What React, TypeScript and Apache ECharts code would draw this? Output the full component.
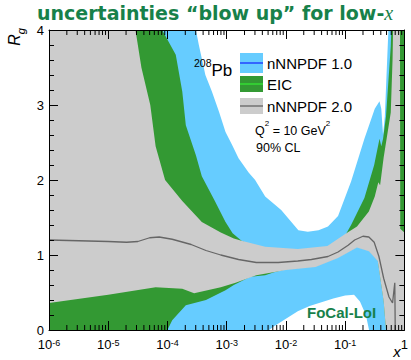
import React, { useEffect, useRef } from 'react';
import * as echarts from 'echarts';

// ---- axis ticks ----
const xTickExponents = [-6, -5, -4, -3, -2, -1, 0];
const yTickLabels = [0, 1, 2, 3, 4];
const minorMultipliers = [2, 3, 4, 5, 6, 7, 8, 9];

// ---- nNNPDF 1.0 band (log10 x , R_g) ----
const nn1UpperLogX = [-6, -3.55, -3.52, -3.47, -3.36, -3.25, -3.13, -3.02, -2.91, -2.8, -2.63, -2.52, -2.35, -2.08, -1.79, -1.63, -1.45, -1.29, -1.12, -0.9, -0.675, -0.5, -0.42, -0.39, -0.36, -0.33, -0.27, -0.25, 0];
const nn1UpperY = [4.5, 4.5, 4.0, 3.8, 3.4, 3.18, 2.91, 2.64, 2.47, 2.29, 2.1, 2.0, 1.78, 1.6, 1.33, 1.31, 1.33, 1.38, 1.52, 1.98, 2.55, 2.95, 3.05, 2.95, 2.6, 2.85, 4.0, 4.5, 4.5];
const nn1LowerLogX = [-6, -2.5, -2.45, -2.2, -2.0, -1.8, -1.6, -1.4, -1.2, -1.0, -0.85, -0.75, -0.65, -0.57, -0.55, 0];
const nn1LowerY = [-0.5, -0.5, -0.1, 0.05, 0.15, 0.25, 0.32, 0.37, 0.42, 0.46, 0.47, 0.38, 0.2, -0.1, -0.5, -0.5];

// ---- EIC band ----
const eicUpperLogX = [-6, -4.12, -4.09, -3.86, -3.75, -3.69, -3.52, -3.42, -3.2, -3.02, -2.9, -2.75, -2.5, -2.0, -1.5, -1.3, -1.0, -0.9, -0.675, -0.51, -0.42, -0.39, -0.36, -0.31, -0.23, -0.2, 0];
const eicUpperY = [4.5, 4.5, 4.0, 3.67, 3.18, 2.73, 2.33, 2.05, 1.72, 1.44, 1.29, 1.19, 1.1, 1.04, 1.06, 1.1, 1.26, 1.4, 1.76, 2.2, 2.55, 2.45, 2.55, 2.85, 3.78, 4.5, 4.5];
const eicLowerLogX = [-6, -4.02, -4.0, -3.92, -3.69, -3.35, -3.02, -2.88, -2.6, -2.35, -2.2, -2.0, -1.5, -1.12, -0.8, -0.6, -0.45, -0.35, -0.3, 0];
const eicLowerY = [-0.5, -0.5, 0.0, 0.13, 0.33, 0.4, 0.53, 0.6, 0.71, 0.73, 0.77, 0.81, 0.85, 0.97, 1.11, 1.06, 0.93, 0.39, -0.1, -0.1];

// ---- nNNPDF 2.0 band ----
const nn2UpperLogX = [-6, -4.6, -4.54, -4.44, -4.29, -4.2, -4.04, -3.75, -3.42, -3.1, -2.88, -2.75, -2.35, -1.8, -1.3, -1.0, -0.8, -0.6, -0.5, -0.44, -0.41, -0.35, -0.23, -0.2, -0.18, -0.075, -0.07, 0];
const nn2UpperY = [4.5, 4.5, 4.0, 3.5, 3.0, 2.45, 2.0, 1.72, 1.44, 1.3, 1.22, 1.19, 1.11, 1.08, 1.12, 1.28, 1.38, 1.58, 1.78, 1.97, 1.93, 2.3, 2.9, 3.6, 4.5, 4.5, 1.35, 1.3];
const nn2LowerLogX = [-6, -5, -4.2, -3.75, -3.55, -3.1, -2.85, -2.5, -2.0, -1.5, -1.12, -0.8, -0.6, -0.45, -0.35, -0.3, 0];
const nn2LowerY = [0.36, 0.47, 0.57, 0.55, 0.49, 0.57, 0.63, 0.73, 0.8, 0.84, 0.96, 1.1, 1.05, 0.92, 0.38, -0.1, -0.1];

// ---- nNNPDF 2.0 central value ----
const nn2CentralLogX = [-6, -5.5, -5, -4.69, -4.5, -4.3, -4.14, -3.92, -3.6, -3.35, -3.1, -2.8, -2.5, -2.13, -1.8, -1.57, -1.29, -1.12, -0.95, -0.84, -0.7, -0.6, -0.51, -0.43, -0.35, -0.26, -0.2, -0.162, -0.152];
const nn2CentralY = [1.2, 1.19, 1.18, 1.17, 1.18, 1.23, 1.24, 1.21, 1.14, 1.06, 1.0, 0.94, 0.9, 0.9, 0.92, 0.94, 0.98, 1.04, 1.13, 1.2, 1.25, 1.24, 1.17, 0.98, 0.69, 0.44, 0.36, 0.63, -0.2];

const legendLabels = ['nNNPDF 1.0', 'EIC', 'nNNPDF 2.0'];

const FONT = '"Liberation Sans", Arial, sans-serif';
const BLUE = '#66ccff';
const GREEN = '#339933';
const GRAY = '#cccccc';
const TITLE_GREEN = '#17814a';

const toPts = (lx: number[], ys: number[]) => lx.map((e, i) => [Math.pow(10, e), ys[i]]);

function bandSeries(name: string, ux: number[], uy: number[], lx: number[], ly: number[], color: string) {
  const pts = toPts(ux, uy).concat(toPts(lx, ly).reverse());
  return {
    type: 'custom',
    name,
    clip: true,
    silent: true,
    data: pts,
    renderItem: (params: any, api: any) => {
      if (params.dataIndex !== 0) return null;
      const points = pts.map((p) => api.coord(p));
      return { type: 'polygon', shape: { points }, style: { fill: color } };
    },
  };
}

export default function App() {
  const ref = useRef<HTMLDivElement>(null);
  useEffect(() => {
    if (!ref.current) return;
    const chart = echarts.init(ref.current, null, { renderer: 'svg' });

    const minorTicks: number[][] = [];
    for (let i = 0; i < xTickExponents.length - 1; i++) {
      for (const m of minorMultipliers) minorTicks.push([m * Math.pow(10, xTickExponents[i]), 0]);
    }

    const xAxisCommon = {
      type: 'log',
      logBase: 10,
      min: Math.pow(10, xTickExponents[0]),
      max: Math.pow(10, xTickExponents[xTickExponents.length - 1]),
      z: 10,
      axisLine: { show: true, onZero: false, lineStyle: { color: '#000', width: 1 } },
      axisTick: { show: true, inside: true, length: 9, lineStyle: { color: '#000', width: 1 } },
      splitLine: { show: false },
    };
    const yAxisCommon = {
      type: 'value',
      min: yTickLabels[0],
      max: yTickLabels[yTickLabels.length - 1],
      interval: 1,
      z: 10,
      axisLine: { show: true, onZero: false, lineStyle: { color: '#000', width: 1 } },
      axisTick: { show: true, inside: true, length: 9, lineStyle: { color: '#000', width: 1 } },
      minorTick: { show: true, splitNumber: 5, length: 5, lineStyle: { color: '#000', width: 1 } },
      splitLine: { show: false },
      minorSplitLine: { show: false },
    };

    const legendY = [63, 84, 106];
    const legendH = [20, 16, 16];
    const legendFill = [BLUE, GREEN, GRAY];
    const legendLine = ['#3366ff', '#33cc33', '#888888'];
    const legendGraphics: any[] = [];
    legendLabels.forEach((lab, i) => {
      legendGraphics.push({
        type: 'rect', z: 100,
        shape: { x: 240, y: legendY[i] - legendH[i] / 2, width: 23, height: legendH[i] },
        style: { fill: legendFill[i] },
      });
      legendGraphics.push({
        type: 'line', z: 101,
        shape: { x1: 240, y1: legendY[i], x2: 263, y2: legendY[i] },
        style: { stroke: legendLine[i], lineWidth: 2 },
      });
      legendGraphics.push({
        type: 'text', z: 101, x: 267, y: legendY[i],
        style: { text: lab, font: `15px ${FONT}`, fill: '#000', align: 'left', verticalAlign: 'middle' },
      });
    });

    chart.setOption({
      animation: false,
      backgroundColor: '#ffffff',
      grid: { left: 49, right: 4, top: 30, bottom: 30, containLabel: false },
      xAxis: [
        {
          ...xAxisCommon,
          position: 'bottom',
          axisLabel: {
            show: true,
            margin: 8,
            color: '#000',
            formatter: (v: number) => {
              const e = Math.round(Math.log10(v));
              return e === 0 ? '{b|1}' : `{b|10}{s|${e}}`;
            },
            rich: {
              b: { fontSize: 13, fontFamily: FONT, color: '#000', lineHeight: 13, verticalAlign: 'bottom' },
              s: { fontSize: 9, fontFamily: FONT, color: '#000', lineHeight: 5, verticalAlign: 'top' },
            },
          },
        },
        { ...xAxisCommon, position: 'top', axisLabel: { show: false } },
      ],
      yAxis: [
        {
          ...yAxisCommon,
          position: 'left',
          axisLabel: { show: true, margin: 5, color: '#000', fontSize: 13, fontFamily: FONT },
        },
        { ...yAxisCommon, position: 'right', axisLabel: { show: false } },
      ],
      series: [
        bandSeries('nNNPDF 1.0', nn1UpperLogX, nn1UpperY, nn1LowerLogX, nn1LowerY, BLUE),
        bandSeries('EIC', eicUpperLogX, eicUpperY, eicLowerLogX, eicLowerY, GREEN),
        bandSeries('nNNPDF 2.0', nn2UpperLogX, nn2UpperY, nn2LowerLogX, nn2LowerY, GRAY),
        {
          type: 'line',
          name: 'nNNPDF 2.0 central',
          data: toPts(nn2CentralLogX, nn2CentralY),
          showSymbol: false,
          symbol: 'none',
          clip: true,
          silent: true,
          z: 4,
          lineStyle: { color: '#666666', width: 1.3 },
        },
        {
          type: 'custom',
          name: 'minor ticks',
          silent: true,
          clip: false,
          z: 10,
          data: minorTicks,
          renderItem: (params: any, api: any) => {
            const x = api.coord([api.value(0), 0])[0];
            const cs = params.coordSys;
            const yb = cs.y + cs.height;
            const yt = cs.y;
            return {
              type: 'group',
              children: [
                { type: 'line', shape: { x1: x, y1: yb, x2: x, y2: yb - 5 }, style: { stroke: '#000', lineWidth: 1 } },
                { type: 'line', shape: { x1: x, y1: yt, x2: x, y2: yt + 5 }, style: { stroke: '#000', lineWidth: 1 } },
              ],
            };
          },
        },
      ],
      graphic: [
        {
          type: 'text', x: 37, y: 12.5, z: 100,
          style: {
            text: '{a|uncertainties “blow up” for low-}{m|x}',
            align: 'left', verticalAlign: 'middle',
            rich: {
              a: { fontSize: 19, fontWeight: 'bold', fontFamily: '"DejaVu Sans", sans-serif', fill: TITLE_GREEN, lineHeight: 20, verticalAlign: 'bottom' },
              m: { fontSize: 20, fontStyle: 'italic', fontFamily: '"Liberation Serif", serif', fill: TITLE_GREEN, lineHeight: 20, verticalAlign: 'bottom' },
            },
          },
        },
        {
          type: 'text', x: 16.5, y: 28, rotation: Math.PI / 2, z: 100,
          style: {
            text: '{r|R}{g|g}',
            align: 'right', verticalAlign: 'middle',
            rich: {
              r: { fontSize: 16, fontStyle: 'italic', fontFamily: FONT, fill: '#000', lineHeight: 20, verticalAlign: 'top' },
              g: { fontSize: 11, fontStyle: 'italic', fontFamily: FONT, fill: '#000', lineHeight: 6, verticalAlign: 'bottom' },
            },
          },
        },
        {
          type: 'text', x: 397, y: 351, z: 100,
          style: { text: 'x', font: `italic 15px ${FONT}`, fill: '#000', align: 'center', verticalAlign: 'middle' },
        },
        {
          type: 'text', x: 194, y: 68, z: 100,
          style: {
            text: '{s|208}{b|Pb}',
            align: 'left', verticalAlign: 'middle',
            rich: {
              s: { fontSize: 10.5, fontFamily: FONT, fill: '#000', lineHeight: 10, verticalAlign: 'top' },
              b: { fontSize: 17, fontFamily: FONT, fill: '#000', lineHeight: 22, verticalAlign: 'bottom' },
            },
          },
        },
        ...legendGraphics,
        {
          type: 'text', x: 255, y: 128, z: 100,
          style: {
            text: '{b|Q}{s|2}{b| = 10 GeV}{s|2}',
            align: 'left', verticalAlign: 'middle',
            rich: {
              b: { fontSize: 12.5, fontFamily: FONT, fill: '#000', lineHeight: 18, verticalAlign: 'bottom' },
              s: { fontSize: 8, fontFamily: FONT, fill: '#000', lineHeight: 8, verticalAlign: 'top' },
            },
          },
        },
        {
          type: 'text', x: 256, y: 148, z: 100,
          style: { text: '90% CL', font: `12.5px ${FONT}`, fill: '#000', align: 'left', verticalAlign: 'middle' },
        },
        {
          type: 'text', x: 307, y: 312, z: 100,
          style: { text: 'FoCal-LoI', font: `bold 15px ${FONT}`, fill: TITLE_GREEN, align: 'left', verticalAlign: 'middle' },
        },
      ],
    });
    return () => chart.dispose();
  }, []);
  return <div ref={ref} style={{ position: 'absolute', left: 0, top: 0, width: 411, height: 360 }} />;
}
